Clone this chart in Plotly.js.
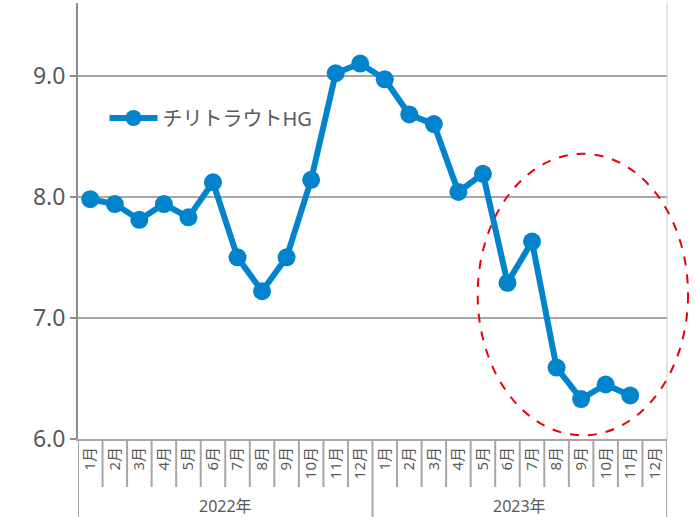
<!DOCTYPE html>
<html>
<head>
<meta charset="utf-8">
<script src="https://cdn.plot.ly/plotly-3.0.1.min.js"></script>
<style>html,body{margin:0;padding:0;background:#fff;}#chart{width:696px;height:517px;}</style>
</head>
<body>
<div id="chart"></div>
<script>
// ---- data ----
const years = ["2022年", "2023年"];
const monthLabels = ["1月","2月","3月","4月","5月","6月","7月","8月","9月","10月","11月","12月"];
const seriesName = "チリトラウトHG";
const values = [7.98, 7.94, 7.81, 7.94, 7.83, 8.12, 7.50, 7.22, 7.50, 8.14, 9.02, 9.10,
                8.97, 8.68, 8.60, 8.04, 8.19, 7.29, 7.63, 6.59, 6.33, 6.45, 6.36];
const yTicks = [6, 7, 8, 9];

// categories built from years x months
const categories = [];
const tickText = [];
years.forEach(y => monthLabels.forEach(m => { categories.push(y + m); tickText.push(m); }));
const xVals = categories.slice(0, values.length);

const gray = "#8c8c8c";
const textGray = "#595959";
const font = "Noto Sans, Noto Sans CJK JP, sans-serif";

const plotH = 517 - 3 - 78;
const shapes = [];
// month dividers
for (let i = 0; i < categories.length - 1; i++) {
  if ((i + 1) % 12 === 0) continue;
  shapes.push({type: "line", xref: "x", yref: "paper", x0: i + 0.5, x1: i + 0.5,
    y0: 0, y1: -48 / plotH, line: {color: "#a6a6a6", width: 2}});
}
// year dividers
for (let k = 0; k <= years.length; k++) {
  const xv = k * 12 - 0.5;
  shapes.push({type: "line", xref: "x", yref: "paper", x0: xv, x1: xv,
    y0: 0, y1: -90 / plotH, line: {color: "#a6a6a6", width: 2}});
}
// right border
shapes.push({type: "line", xref: "paper", yref: "paper", x0: 1, x1: 1, y0: 0, y1: 1,
  line: {color: "#c8c8c8", width: 1}});
// highlight ellipse
shapes.push({type: "circle", xref: "paper", yref: "y",
  x0: (477 - 78) / 588, x1: (687 - 78) / 588, y0: 6.03, y1: 8.355,
  line: {color: "#e60012", width: 2, dash: "dash"}});

const annotations = years.map((y, k) => ({
  text: y, xref: "x", yref: "paper", x: k * 12 + 5.5, y: -67 / plotH,
  showarrow: false, yanchor: "middle", font: {family: font, size: 16, color: textGray}
}));

const trace = {
  type: "scatter", mode: "lines+markers", name: seriesName,
  x: xVals, y: values,
  line: {color: "#0284cc", width: 6},
  marker: {color: "#0284cc", size: 18},
  cliponaxis: false
};

const layout = {
  width: 696, height: 517,
  margin: {l: 78, r: 29, t: 3, b: 78},
  paper_bgcolor: "#fff", plot_bgcolor: "#fff",
  font: {family: font, color: textGray},
  showlegend: true,
  legend: {x: 0.045, y: (439 - 118) / plotH, xanchor: "left", yanchor: "middle",
    itemwidth: 48,
    bgcolor: "rgba(0,0,0,0)", font: {family: font, size: 20, color: textGray}},
  xaxis: {type: "category", categoryorder: "array", categoryarray: categories,
    range: [-0.5, categories.length - 0.5],
    tickvals: categories, ticktext: tickText, tickangle: -90,
    tickfont: {family: font, size: 15, color: textGray},
    showgrid: false, zeroline: false, showline: true, linecolor: "#a6a6a6", linewidth: 2,
    ticks: "", fixedrange: true},
  yaxis: {range: [6, 9.6], tickvals: yTicks, tickformat: ".1f",
    tickfont: {family: font, size: 23, color: textGray},
    showgrid: true, gridcolor: "#a6a6a6", gridwidth: 2, zeroline: false,
    showline: true, linecolor: gray, linewidth: 2,
    ticks: "outside", ticklen: 6, tickcolor: gray, tickwidth: 2, fixedrange: true},
  shapes: shapes,
  annotations: annotations
};

Plotly.newPlot("chart", [trace], layout, {displayModeBar: false, staticPlot: true});
</script>
</body>
</html>
